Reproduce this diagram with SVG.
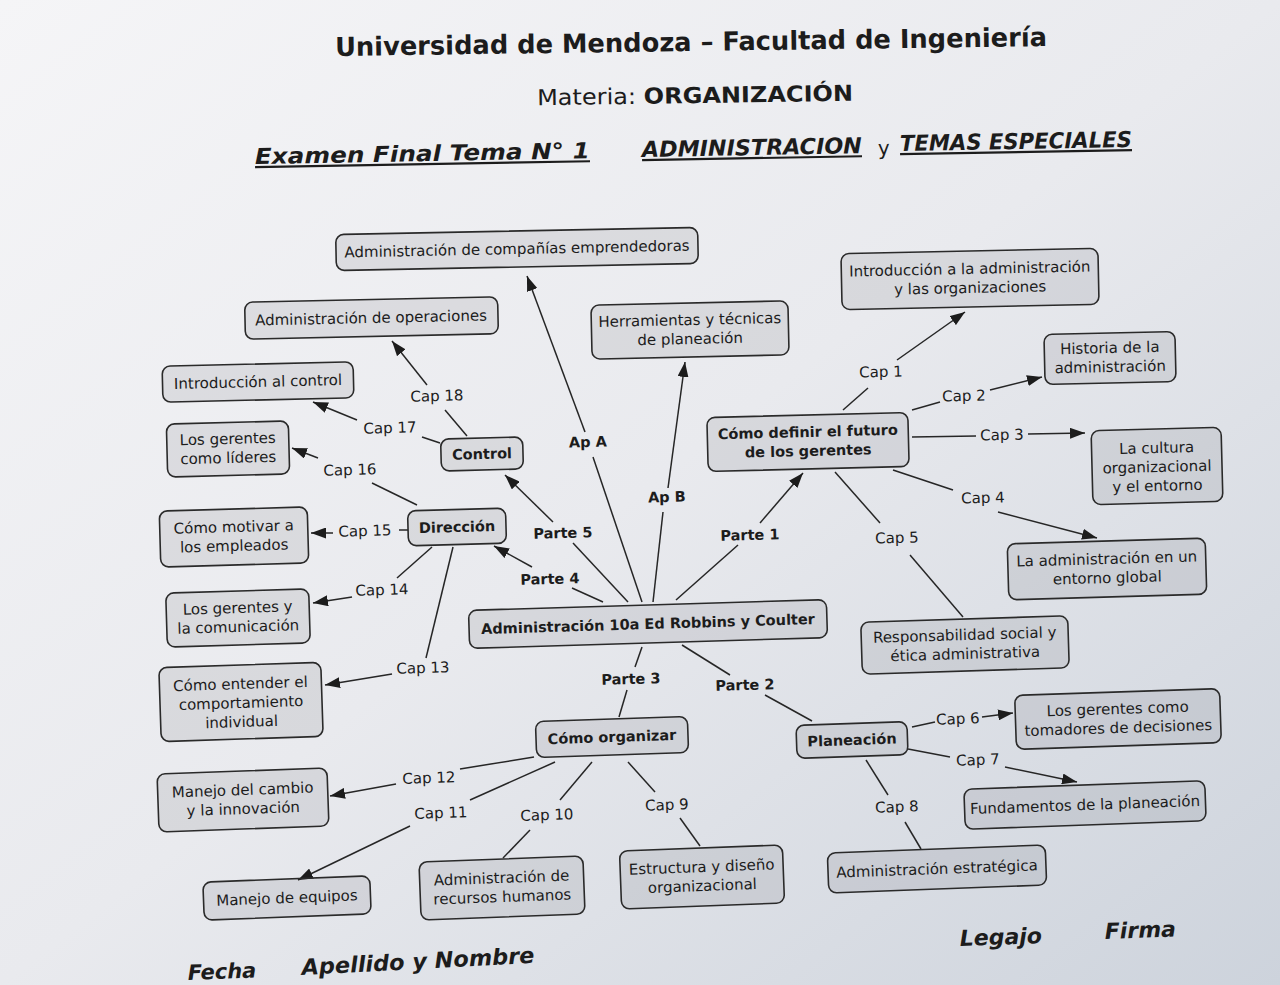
<svg xmlns="http://www.w3.org/2000/svg" width="1280" height="985" viewBox="0 0 1280 985">
<defs>
<linearGradient id="bg" x1="0" y1="0" x2="1" y2="1">
<stop offset="0" stop-color="#f5f5f7"/>
<stop offset="0.5" stop-color="#e9eaee"/>
<stop offset="1" stop-color="#cdd3dc"/>
</linearGradient>
<marker id="ar" viewBox="0 0 15 11" refX="15" refY="5.5" markerWidth="15" markerHeight="11" markerUnits="userSpaceOnUse" orient="auto">
<path d="M0,0 L15,5.5 L0,11 z" fill="#1c1c1c"/>
</marker>
<style>
.box{fill:rgba(70,72,82,0.11);stroke:#2a2a2a;stroke-width:1.6}
text{font-family:'DejaVu Sans',Verdana,sans-serif;fill:#1c1c1c}
.t{font-size:15px;text-anchor:middle}
.b{font-size:14.5px;font-weight:bold;text-anchor:middle}
.l{font-size:15px;text-anchor:middle}
.lb{font-size:14.5px;font-weight:bold;text-anchor:middle}
.h{font-weight:bold}
.hi{font-weight:bold;font-style:italic}
#connectors line{stroke:#262626;stroke-width:1.5;fill:none}
#connectors line.a{marker-end:url(#ar)}
</style>
</defs>
<rect x="0" y="0" width="1280" height="985" fill="url(#bg)"/>

<g id="header">
<text x="691" y="51" class="h" font-size="26" text-anchor="middle" textLength="712" lengthAdjust="spacingAndGlyphs" transform="rotate(-0.8 691 42)">Universidad de Mendoza – Facultad de Ingeniería</text>
<text x="695" y="103" font-size="22" text-anchor="middle" textLength="316" lengthAdjust="spacingAndGlyphs" transform="rotate(-0.8 695 95)">Materia: <tspan font-weight="bold">ORGANIZACIÓN</tspan></text>
<text x="255" y="164" class="hi" font-size="22" text-decoration="underline" textLength="335" lengthAdjust="spacingAndGlyphs" transform="rotate(-1 255 164)">Examen Final Tema N°  1</text>
<text x="642" y="157" class="hi" font-size="22" text-decoration="underline" textLength="220" lengthAdjust="spacingAndGlyphs" transform="rotate(-1 642 157)">ADMINISTRACION</text>
<text x="878" y="155" font-size="20" transform="rotate(-1 878 155)">y</text>
<text x="900" y="151" class="hi" font-size="22" text-decoration="underline" textLength="232" lengthAdjust="spacingAndGlyphs" transform="rotate(-1 900 151)">TEMAS ESPECIALES</text>
</g>

<g id="connectors">
<line x1="628" y1="602" x2="573" y2="543"/><line class="a" x1="553" y1="522" x2="505" y2="475"/>
<line x1="603" y1="602" x2="572" y2="588"/><line class="a" x1="532" y1="567" x2="494" y2="546"/>
<line x1="642" y1="602" x2="593" y2="457"/><line class="a" x1="585" y1="432" x2="527" y2="276"/>
<line x1="653" y1="602" x2="663" y2="512"/><line class="a" x1="668" y1="488" x2="685" y2="362"/>
<line x1="676" y1="600" x2="738" y2="545"/><line class="a" x1="760" y1="523" x2="803" y2="473"/>
<line x1="642" y1="647" x2="635" y2="667"/><line x1="627" y1="690" x2="619" y2="717"/>
<line x1="682" y1="645" x2="730" y2="675"/><line x1="765" y1="695" x2="812" y2="721"/>
<line x1="467" y1="436" x2="445" y2="410"/><line class="a" x1="427" y1="385" x2="392" y2="341"/>
<line x1="440" y1="443" x2="422" y2="437"/><line class="a" x1="357" y1="420" x2="313" y2="402"/>
<line x1="417" y1="505" x2="372" y2="483"/><line class="a" x1="318" y1="458" x2="292" y2="448"/>
<line x1="408" y1="530" x2="399" y2="530"/><line class="a" x1="333" y1="533" x2="311" y2="533"/>
<line x1="432" y1="547" x2="397" y2="578"/><line class="a" x1="352" y1="597" x2="313" y2="603"/>
<line x1="453" y1="547" x2="426" y2="658"/><line class="a" x1="392" y1="674" x2="325" y2="685"/>
<line x1="534" y1="757" x2="460" y2="769"/><line class="a" x1="396" y1="784" x2="330" y2="796"/>
<line x1="555" y1="762" x2="470" y2="800"/><line class="a" x1="410" y1="826" x2="298" y2="880"/>
<line x1="592" y1="762" x2="560" y2="800"/><line x1="530" y1="830" x2="503" y2="858"/>
<line x1="628" y1="762" x2="655" y2="792"/><line x1="680" y1="818" x2="700" y2="846"/>
<line x1="912" y1="727" x2="935" y2="722"/><line class="a" x1="982" y1="717" x2="1013" y2="713"/>
<line x1="908" y1="749" x2="950" y2="757"/><line class="a" x1="1005" y1="767" x2="1077" y2="782"/>
<line x1="866" y1="760" x2="888" y2="795"/><line x1="905" y1="822" x2="921" y2="849"/>
<line x1="843" y1="410" x2="868" y2="388"/><line class="a" x1="897" y1="360" x2="965" y2="312"/>
<line x1="912" y1="410" x2="940" y2="402"/><line class="a" x1="990" y1="390" x2="1042" y2="377"/>
<line x1="912" y1="437" x2="976" y2="436"/><line class="a" x1="1028" y1="434" x2="1085" y2="433"/>
<line x1="893" y1="470" x2="953" y2="490"/><line class="a" x1="998" y1="512" x2="1097" y2="538"/>
<line x1="835" y1="472" x2="880" y2="523"/><line x1="910" y1="555" x2="963" y2="617"/>
</g>

<g id="labels">
<text class="lb" x="588" y="447" transform="rotate(-1.5 588 447)">Ap A</text>
<text class="lb" x="667" y="502" transform="rotate(-1.5 667 502)">Ap B</text>
<text class="lb" x="563" y="538" transform="rotate(-1.5 563 538)">Parte 5</text>
<text class="lb" x="550" y="584" transform="rotate(-1.5 550 584)">Parte 4</text>
<text class="lb" x="750" y="540" transform="rotate(-1.5 750 540)">Parte 1</text>
<text class="lb" x="631" y="684" transform="rotate(-1.5 631 684)">Parte 3</text>
<text class="lb" x="745" y="690" transform="rotate(-1.5 745 690)">Parte 2</text>
<text class="l" x="437" y="401" transform="rotate(-1.5 437 401)">Cap 18</text>
<text class="l" x="390" y="433" transform="rotate(-1.5 390 433)">Cap 17</text>
<text class="l" x="350" y="475" transform="rotate(-1.5 350 475)">Cap 16</text>
<text class="l" x="365" y="536" transform="rotate(-1.5 365 536)">Cap 15</text>
<text class="l" x="382" y="595" transform="rotate(-1.5 382 595)">Cap 14</text>
<text class="l" x="423" y="673" transform="rotate(-1.5 423 673)">Cap 13</text>
<text class="l" x="429" y="783" transform="rotate(-2 429 783)">Cap 12</text>
<text class="l" x="441" y="818" transform="rotate(-2 441 818)">Cap 11</text>
<text class="l" x="547" y="820" transform="rotate(-2 547 820)">Cap 10</text>
<text class="l" x="667" y="810" transform="rotate(-2 667 810)">Cap 9</text>
<text class="l" x="958" y="724" transform="rotate(-2 958 724)">Cap 6</text>
<text class="l" x="978" y="765" transform="rotate(-2 978 765)">Cap 7</text>
<text class="l" x="897" y="812" transform="rotate(-2 897 812)">Cap 8</text>
<text class="l" x="881" y="377" transform="rotate(-1.3 881 377)">Cap 1</text>
<text class="l" x="964" y="401" transform="rotate(-1.3 964 401)">Cap 2</text>
<text class="l" x="1002" y="440" transform="rotate(-1.3 1002 440)">Cap 3</text>
<text class="l" x="983" y="503" transform="rotate(-1.5 983 503)">Cap 4</text>
<text class="l" x="897" y="543" transform="rotate(-1.5 897 543)">Cap 5</text>
</g>

<g id="n1" transform="rotate(-1.13 517 249)"><rect class="box" x="336" y="231" width="362" height="36" rx="8"/><text class="t" x="517" y="254">Administración de compañías emprendedoras</text></g>
<g id="n2" transform="rotate(-1.24 371 318)"><rect class="box" x="245" y="299.5" width="253" height="37" rx="8"/><text class="t" x="371" y="323">Administración de operaciones</text></g>
<g id="n3" transform="rotate(-1.26 690 330)"><rect class="box" x="591.5" y="303" width="197" height="54" rx="8"/><text class="t" x="690" y="325">Herramientas y técnicas</text><text class="t" x="690" y="344">de planeación</text></g>
<g id="n4" transform="rotate(-1.18 970 279)"><rect class="box" x="841.5" y="251" width="257" height="56" rx="8"/><text class="t" x="970" y="274">Introducción a la administración</text><text class="t" x="970" y="293">y las organizaciones</text></g>
<g id="n5" transform="rotate(-1.31 1110 358)"><rect class="box" x="1044.5" y="333" width="131" height="50" rx="8"/><text class="t" x="1110" y="353">Historia de la</text><text class="t" x="1110" y="372">administración</text></g>
<g id="n6" transform="rotate(-1.35 258 382)"><rect class="box" x="162.5" y="364" width="191" height="36" rx="8"/><text class="t" x="258" y="387">Introducción al control</text></g>
<g id="n7" transform="rotate(-1.45 228 449)"><rect class="box" x="167" y="422.5" width="122" height="53" rx="8"/><text class="t" x="228" y="444">Los gerentes</text><text class="t" x="228" y="463">como líderes</text></g>
<g id="n8" transform="rotate(-1.46 482 454)"><rect class="box" x="441" y="438" width="82" height="32" rx="8"/><text class="b" x="482" y="459">Control</text></g>
<g id="n9" transform="rotate(-1.44 808 442)"><rect class="box" x="707.5" y="415" width="201" height="54" rx="8"/><text class="b" x="808" y="437">Cómo definir el futuro</text><text class="b" x="808" y="456">de los gerentes</text></g>
<g id="n10" transform="rotate(-1.48 1157 466)"><rect class="box" x="1092" y="429" width="130" height="74" rx="8"/><text class="t" x="1157" y="453">La cultura</text><text class="t" x="1157" y="472">organizacional</text><text class="t" x="1157" y="491">y el entorno</text></g>
<g id="n11" transform="rotate(-1.6 234 537)"><rect class="box" x="160" y="509" width="148" height="56" rx="8"/><text class="t" x="234" y="532">Cómo motivar a</text><text class="t" x="234" y="551">los empleados</text></g>
<g id="n12" transform="rotate(-1.58 457 527)"><rect class="box" x="408" y="509.5" width="98" height="35" rx="8"/><text class="b" x="457" y="532">Dirección</text></g>
<g id="n13" transform="rotate(-1.65 1107 569)"><rect class="box" x="1008" y="541" width="198" height="56" rx="8"/><text class="t" x="1107" y="564">La administración en un</text><text class="t" x="1107" y="583">entorno global</text></g>
<g id="n14" transform="rotate(-1.72 238 618)"><rect class="box" x="166.5" y="591" width="143" height="54" rx="8"/><text class="t" x="238" y="613">Los gerentes y</text><text class="t" x="238" y="632">la comunicación</text></g>
<g id="n15" transform="rotate(-1.73 648 624)"><rect class="box" x="469" y="605" width="358" height="38" rx="8"/><text class="b" x="648" y="629">Administración 10a Ed Robbins y Coulter</text></g>
<g id="n16" transform="rotate(-1.77 965 645)"><rect class="box" x="861.5" y="619" width="207" height="52" rx="8"/><text class="t" x="965" y="640">Responsabilidad social y</text><text class="t" x="965" y="659">ética administrativa</text></g>
<g id="n17" transform="rotate(-1.86 241 702)"><rect class="box" x="160" y="665" width="162" height="74" rx="8"/><text class="t" x="241" y="689">Cómo entender el</text><text class="t" x="241" y="708">comportamiento</text><text class="t" x="241" y="727">individual</text></g>
<g id="n18" transform="rotate(-1.89 1118 719)"><rect class="box" x="1015.5" y="692" width="205" height="54" rx="8"/><text class="t" x="1118" y="714">Los gerentes como</text><text class="t" x="1118" y="733">tomadores de decisiones</text></g>
<g id="n19" transform="rotate(-1.92 612 737)"><rect class="box" x="536" y="719" width="152" height="36" rx="8"/><text class="b" x="612" y="742">Cómo organizar</text></g>
<g id="n20" transform="rotate(-1.92 852 740)"><rect class="box" x="796.5" y="723.5" width="111" height="33" rx="8"/><text class="b" x="852" y="745">Planeación</text></g>
<g id="n21" transform="rotate(-2.02 243 800)"><rect class="box" x="158" y="771" width="170" height="58" rx="8"/><text class="t" x="243" y="795">Manejo del cambio</text><text class="t" x="243" y="814">y la innovación</text></g>
<g id="n22" transform="rotate(-2.02 1085 805)"><rect class="box" x="964.5" y="785" width="241" height="40" rx="8"/><text class="t" x="1085" y="810">Fundamentos de la planeación</text></g>
<g id="n23" transform="rotate(-2.17 287 898)"><rect class="box" x="203.5" y="879" width="167" height="38" rx="8"/><text class="t" x="287" y="903">Manejo de equipos</text></g>
<g id="n24" transform="rotate(-2.16 502 888)"><rect class="box" x="420" y="859" width="164" height="58" rx="8"/><text class="t" x="502" y="883">Administración de</text><text class="t" x="502" y="902">recursos humanos</text></g>
<g id="n25" transform="rotate(-2.14 702 877)"><rect class="box" x="620.5" y="848" width="163" height="58" rx="8"/><text class="t" x="702" y="872">Estructura y diseño</text><text class="t" x="702" y="891">organizacional</text></g>
<g id="n26" transform="rotate(-2.13 937 869)"><rect class="box" x="828" y="849" width="218" height="40" rx="8"/><text class="t" x="937" y="874">Administración estratégica</text></g>

<g id="footer">
<text x="188" y="980" class="hi" font-size="21" transform="rotate(-2 188 980)">Fecha</text>
<text x="302" y="975" class="hi" font-size="22" textLength="233" lengthAdjust="spacingAndGlyphs" transform="rotate(-3 302 975)">Apellido y Nombre</text>
<text x="960" y="946" class="hi" font-size="22" transform="rotate(-2 960 946)">Legajo</text>
<text x="1105" y="939" class="hi" font-size="22" transform="rotate(-2 1105 939)">Firma</text>
</g>
</svg>
